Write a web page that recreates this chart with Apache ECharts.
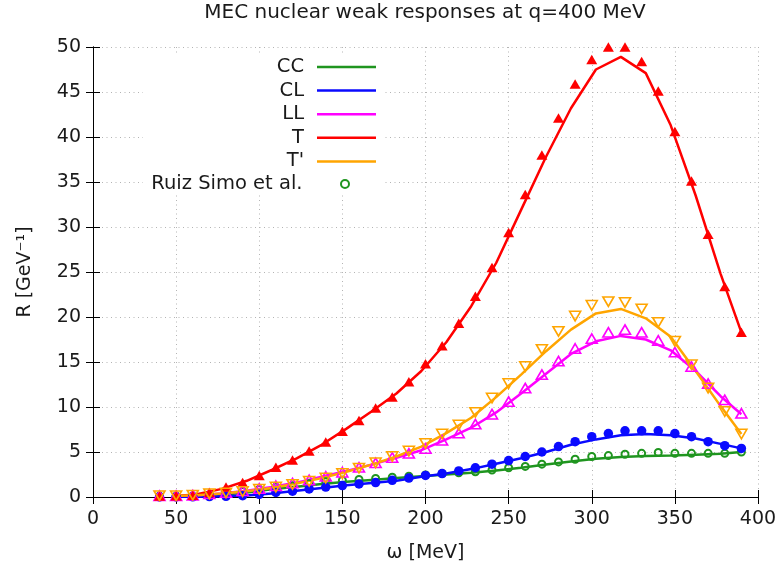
<!DOCTYPE html>
<html><head><meta charset="utf-8">
<script src="https://cdn.jsdelivr.net/npm/echarts@6/dist/echarts.min.js"></script>
<style>html,body{margin:0;padding:0;background:#fff}#c{width:782px;height:569px}</style>
</head><body><div id="c"></div>
<script>
// omega values (MeV) of the model curves
const lineOmega = [47.5,62.5,77.5,92.5,107.5,122.5,137.5,152.5,167.5,182.5,197.5,212.5,227.5,242.5,257.5,272.5,287.5,302.5,317.5,332.5,347.5,362.5,377.5,390];
const lineCC  = [0.03,0.1,0.25,0.5,0.85,1.15,1.45,1.7,1.9,2.1,2.3,2.5,2.7,2.95,3.25,3.6,3.95,4.25,4.45,4.55,4.6,4.7,4.8,5.0];
const lineCL  = [0.0,0.02,0.08,0.18,0.4,0.7,1.0,1.3,1.55,1.8,2.25,2.6,3.1,3.7,4.3,5.0,5.8,6.4,6.85,7.0,6.85,6.5,5.9,5.4];
const lineLL  = [0.1,0.2,0.4,0.7,1.1,1.6,2.25,2.9,3.6,4.35,5.2,6.4,7.7,9.4,11.5,13.7,15.9,17.3,17.9,17.5,16.3,14.0,11.2,9.2];
const lineT   = [0.05,0.3,0.9,1.8,3.0,4.3,5.8,7.6,9.5,11.5,14.0,17.2,21.2,26.0,31.9,37.8,43.2,47.5,48.9,47.1,41.3,33.5,24.8,18.3];
const lineTp  = [0.1,0.2,0.4,0.65,1.0,1.5,2.1,2.8,3.6,4.5,5.6,7.1,8.8,11.1,13.6,16.2,18.6,20.4,20.9,19.85,17.8,14.0,10.1,7.0];

// omega values (MeV) of the Ruiz Simo et al. points
const markerOmega = [40,50,60,70,80,90,100,110,120,130,140,150,160,170,180,190,200,210,220,230,240,250,260,270,280,290,300,310,320,330,340,350,360,370,380,390];
const ptsCC = [0.1,0.1,0.1,0.2,0.35,0.6,0.85,1.1,1.25,1.5,1.7,1.85,1.95,2.05,2.2,2.3,2.45,2.6,2.7,2.8,3.0,3.25,3.4,3.65,3.9,4.2,4.5,4.6,4.75,4.85,4.95,4.85,4.85,4.85,4.85,5.0];
const ptsCL = [0.0,0.0,0.02,0.05,0.08,0.15,0.3,0.5,0.65,0.9,1.1,1.27,1.45,1.6,1.85,2.1,2.4,2.6,2.9,3.25,3.65,4.05,4.5,5.0,5.6,6.15,6.7,7.05,7.35,7.35,7.35,7.05,6.7,6.15,5.7,5.4];
const ptsLL = [0.15,0.15,0.2,0.35,0.5,0.7,0.95,1.25,1.55,1.9,2.3,2.75,3.3,3.8,4.4,4.85,5.4,6.3,7.1,8.1,9.2,10.6,12.1,13.6,15.1,16.5,17.6,18.3,18.6,18.3,17.4,16.1,14.5,12.6,10.8,9.3];
const ptsT  = [0.1,0.15,0.2,0.5,1.1,1.6,2.4,3.3,4.1,5.1,6.1,7.3,8.5,9.9,11.1,12.8,14.8,16.8,19.3,22.3,25.5,29.4,33.6,38.0,42.1,45.9,48.6,50.0,50.0,48.4,45.1,40.6,35.1,29.2,23.4,18.3];
const ptsTp = [0.15,0.15,0.2,0.35,0.45,0.6,0.85,1.1,1.4,1.75,2.1,2.6,3.2,3.8,4.5,5.1,5.95,7.0,8.0,9.4,11.0,12.6,14.5,16.4,18.4,20.1,21.3,21.7,21.6,20.9,19.4,17.3,14.7,12.1,9.5,7.0];

const xTicks = {min: 0, max: 400, interval: 50};
const yTicks = {min: 0, max: 50, interval: 5};

const FONT = 'DejaVu Sans';
const C = {CC: '#1f951f', CL: '#0a0aff', LL: '#ff00ff', T: '#ff0000', Tp: '#ffa500'};

const pairs = (xs, ys) => xs.map((x, i) => [x, ys[i]]);

function lineSeries(name, ys, color) {
  return {name, type: 'line', data: pairs(lineOmega, ys), symbol: 'none',
    lineStyle: {color, width: 2.5}, itemStyle: {color}, z: 2, animation: false};
}
function ptSeries(name, ys, opt) {
  return Object.assign({name, type: 'scatter', data: pairs(markerOmega, ys), clip: false, z: 3, animation: false}, opt);
}

const chart = echarts.init(document.getElementById('c'), null, {renderer: 'canvas'});
const axisLine = {show: true, lineStyle: {color: '#000', width: 1}};
const tick = {show: true, inside: true, length: 7, lineStyle: {color: '#000', width: 1}};
const legendText = {fontFamily: FONT, fontSize: 19.5, lineHeight: 19, color: '#1a1a1a', padding: [0, 8, 0, 0]};
chart.setOption({
  backgroundColor: '#fff',
  animation: false,
  textStyle: {fontFamily: FONT},
  title: {text: 'MEC nuclear weak responses at q=400 MeV', left: 425, top: 3, textAlign: 'center', padding: 0,
    textStyle: {fontFamily: FONT, fontSize: 20, fontWeight: 'normal', color: '#1a1a1a'}},
  grid: {left: 93, right: 24, top: 47, bottom: 72, containLabel: false},
  graphic: [{type: 'rect', shape: {x: 143, y: 56, width: 240, height: 139}, style: {fill: '#fff'}, z: 1, silent: true}],
  legend: [{
    data: ['CC', 'CL', 'LL', 'T', "T'"], orient: 'vertical', align: 'right', right: 406, top: 57,
    icon: 'rect', itemWidth: 59, itemHeight: 2.5, itemGap: 3.6, padding: 0,
    textStyle: legendText
  }, {
    data: ['Ruiz Simo et al.'], orient: 'vertical', align: 'right', right: 432, top: 174,
    itemWidth: 59, itemHeight: 8, padding: 0,
    textStyle: legendText
  }],
  xAxis: [{
    type: 'value', ...xTicks, position: 'bottom',
    name: 'ω [MeV]', nameLocation: 'middle', nameGap: 47,
    nameTextStyle: {fontFamily: FONT, fontSize: 19, color: '#1a1a1a'},
    axisLine, axisTick: tick,
    axisLabel: {fontFamily: FONT, fontSize: 19, color: '#1a1a1a', margin: 13},
    splitLine: {show: true, lineStyle: {color: '#b4b4b4', width: 1, type: [1, 3.5]}}
  }, {
    type: 'value', ...xTicks, position: 'top', axisLine, axisTick: tick,
    axisLabel: {show: false}, splitLine: {show: false}
  }],
  yAxis: [{
    type: 'value', ...yTicks, position: 'left',
    name: 'R [GeV⁻¹]', nameLocation: 'middle', nameGap: 58,
    nameTextStyle: {fontFamily: FONT, fontSize: 19, color: '#1a1a1a'},
    axisLine, axisTick: tick,
    axisLabel: {fontFamily: FONT, fontSize: 19, color: '#1a1a1a', margin: 12},
    splitLine: {show: true, lineStyle: {color: '#b4b4b4', width: 1, type: [1, 3.5]}}
  }, {
    type: 'value', ...yTicks, position: 'right', axisLine, axisTick: tick,
    axisLabel: {show: false}, splitLine: {show: false}
  }],
  series: [
    lineSeries('CC', lineCC, C.CC),
    lineSeries('CL', lineCL, C.CL),
    lineSeries('LL', lineLL, C.LL),
    lineSeries('T', lineT, C.T),
    lineSeries("T'", lineTp, C.Tp),
    ptSeries('Ruiz Simo et al.', ptsCC, {symbol: 'circle', symbolSize: 7,
      itemStyle: {color: 'rgba(255,255,255,0)', borderColor: C.CC, borderWidth: 2, opacity: 1}}),
    ptSeries('Ruiz Simo et al. CL', ptsCL, {symbol: 'circle', symbolSize: 9.5,
      itemStyle: {color: C.CL, opacity: 1}}),
    ptSeries('Ruiz Simo et al. LL', ptsLL, {symbol: 'triangle', symbolSize: [11, 9.5],
      itemStyle: {color: 'rgba(255,255,255,0)', borderColor: C.LL, borderWidth: 1.6, opacity: 1}}),
    ptSeries('Ruiz Simo et al. T', ptsT, {symbol: 'triangle', symbolSize: [11, 9.5],
      itemStyle: {color: C.T, opacity: 1}}),
    ptSeries("Ruiz Simo et al. T'", ptsTp, {symbol: 'triangle', symbolSize: [11, 9.5], symbolRotate: 180,
      itemStyle: {color: 'rgba(255,255,255,0)', borderColor: C.Tp, borderWidth: 1.6, opacity: 1}})
  ]
});
</script>
</body></html>
